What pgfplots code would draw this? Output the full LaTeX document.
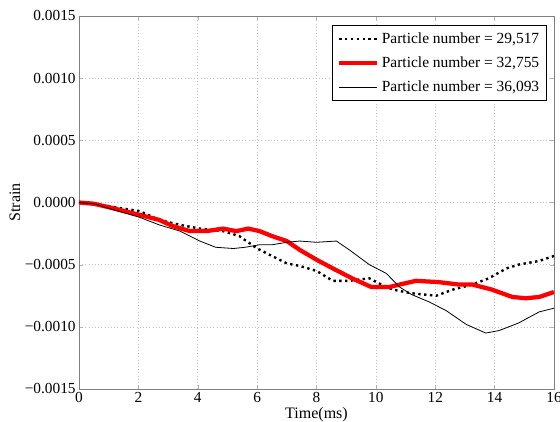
\documentclass[border=0pt]{standalone}
\usepackage{fontspec}
\setmainfont{Liberation Serif}
\usepackage{pgfplots}
\pgfplotsset{compat=1.18}
\begin{document}
\begin{tikzpicture}
\path[use as bounding box] (-59.25pt,-24pt) rectangle (360.75pt,291.75pt);
\begin{axis}[
  at={(0,0)}, anchor=south west,
  scale only axis, width=356.25pt, height=279.75pt,
  xmin=0, xmax=16, ymin=-0.0015, ymax=0.0015,
  xtick={0,2,...,16},
  ytick={-0.0015,-0.001,-0.0005,0,0.0005,0.001,0.0015},
  yticklabels={−0.0015,−0.0010,−0.0005,0.0000,0.0005,0.0010,0.0015},
  scaled y ticks=false,
  /pgf/number format/assume math mode=true,
  tick label style={font=\fontsize{11.5}{13}\selectfont},
  xticklabel style={yshift=1pt},
  yticklabel style={xshift=1pt},
  label style={font=\fontsize{12}{14}\selectfont},
  xlabel={Time(ms)}, ylabel={Strain},
  xlabel style={at={(axis description cs:0.5,0)}, anchor=north, yshift=-10.5pt},
  ylabel style={at={(axis description cs:-0.135,0.5)}, anchor=center},
  axis line style={gray},
  tick style={gray!60, major tick length=3pt},
  grid=major,
  grid style={gray!50, dotted, line width=0.4pt},
  legend style={at={(0.985,0.976)}, anchor=north east, draw=black, line width=0.5pt,
    font=\fontsize{11.6}{14}\selectfont, row sep=4.5pt, inner sep=3.5pt,
    legend image code/.code={\draw[#1] (0cm,0cm) -- (1cm,0cm);}},
  legend cell align=left,
]
\addplot[black, line width=1.8pt, dash pattern=on 1.8pt off 2.6pt] coordinates {
(0,0) (1,-0.00003) (2.05,-0.00007) (2.7,-0.00014) (3.4,-0.00018) (4.07,-0.00021) (4.85,-0.00023) (5.4,-0.00027) (6,-0.00037) (6.5,-0.00043) (7,-0.00049) (7.43,-0.00051) (8,-0.00055) (8.55,-0.00063) (9.1,-0.00063) (9.78,-0.00061) (10.1,-0.00065) (10.56,-0.0007) (11.2,-0.00073) (12.03,-0.00075) (12.6,-0.0007) (13.25,-0.00066) (13.8,-0.00061) (14.4,-0.00053) (14.8,-0.0005) (15.5,-0.00047) (16,-0.00043)
};
\addlegendentry{Particle number = 29,517}
\addplot[red, line width=3.2pt] coordinates {
(0,0) (0.5,-0.00001) (1.04,-0.00004) (2.05,-0.0001) (2.7,-0.00014) (3.16,-0.00019) (3.73,-0.00023) (4.3,-0.00023) (4.85,-0.00021) (5.3,-0.00023) (5.7,-0.00021) (6.08,-0.00023) (6.5,-0.00027) (7,-0.00031) (7.43,-0.00038) (8,-0.00046) (8.55,-0.00053) (9.2,-0.00061) (9.85,-0.00068) (10.45,-0.00068) (10.8,-0.00066) (11.35,-0.00063) (12.1,-0.00064) (12.8,-0.00066) (13.25,-0.00066) (13.9,-0.0007) (14.6,-0.00076) (15.05,-0.00077) (15.5,-0.00076) (16,-0.00072)
};
\addlegendentry{Particle number = 32,755}
\addplot[black, line width=0.6pt] coordinates {
(0,0) (0.5,-0.00001) (1.04,-0.00005) (2.05,-0.00012) (2.7,-0.00018) (3.4,-0.00023) (4.07,-0.00031) (4.6,-0.00036) (5.2,-0.00037) (5.6,-0.00036) (6.08,-0.00034) (6.5,-0.00034) (7,-0.00032) (7.43,-0.00031) (8,-0.00032) (8.67,-0.00031) (9.1,-0.00038) (9.78,-0.0005) (10.35,-0.00057) (10.8,-0.00068) (11.2,-0.00074) (11.8,-0.0008) (12.37,-0.00087) (13.04,-0.00098) (13.7,-0.00105) (14.15,-0.00103) (14.8,-0.00097) (15.5,-0.00088) (16,-0.00085)
};
\addlegendentry{Particle number = 36,093}
\end{axis}
\end{tikzpicture}
\end{document}
